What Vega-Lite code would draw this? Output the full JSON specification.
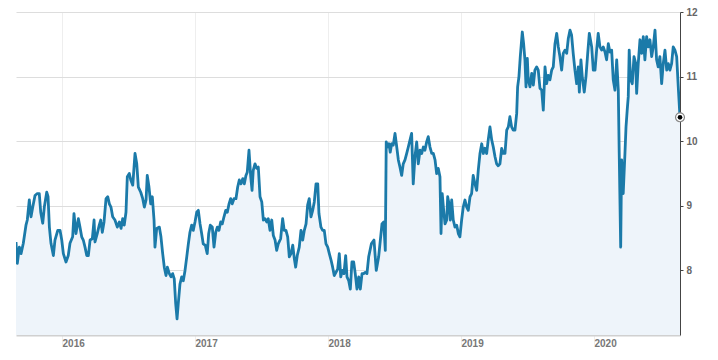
{
  "$schema": "https://vega.github.io/schema/vega-lite/v6.json",
  "width": 664,
  "height": 323,
  "autosize": "none",
  "padding": {"left": 16, "top": 12, "right": 38, "bottom": 25},
  "background": "white",
  "config": {"view": {"stroke": null}, "font": "Liberation Sans"},
  "data": {"values": [
    {"t":2015.654,"v":8.44},{"t":2015.664,"v":8.11},{"t":2015.679,"v":8.36},{"t":2015.692,"v":8.26},{"t":2015.709,"v":8.42},{"t":2015.729,"v":8.70},{"t":2015.739,"v":8.78},{"t":2015.754,"v":9.09},{"t":2015.767,"v":8.83},{"t":2015.780,"v":8.98},{"t":2015.797,"v":9.16},{"t":2015.814,"v":9.19},{"t":2015.829,"v":9.19},{"t":2015.840,"v":8.90},{"t":2015.855,"v":8.73},{"t":2015.867,"v":8.98},{"t":2015.885,"v":9.21},{"t":2015.895,"v":9.14},{"t":2015.905,"v":8.67},{"t":2015.917,"v":8.42},{"t":2015.935,"v":8.23},{"t":2015.947,"v":8.47},{"t":2015.968,"v":8.62},{"t":2015.985,"v":8.62},{"t":2015.998,"v":8.47},
    {"t":2016.010,"v":8.26},{"t":2016.030,"v":8.13},{"t":2016.047,"v":8.23},{"t":2016.060,"v":8.42},{"t":2016.080,"v":8.52},{"t":2016.090,"v":8.88},{"t":2016.105,"v":8.57},{"t":2016.123,"v":8.80},{"t":2016.135,"v":8.67},{"t":2016.148,"v":8.52},{"t":2016.160,"v":8.47},{"t":2016.173,"v":8.36},{"t":2016.186,"v":8.23},{"t":2016.198,"v":8.23},{"t":2016.211,"v":8.47},{"t":2016.228,"v":8.49},{"t":2016.241,"v":8.78},{"t":2016.248,"v":8.44},{"t":2016.265,"v":8.57},{"t":2016.280,"v":8.70},{"t":2016.291,"v":8.78},{"t":2016.303,"v":8.59},{"t":2016.316,"v":8.75},{"t":2016.331,"v":9.11},{"t":2016.344,"v":9.14},{"t":2016.356,"v":9.03},{"t":2016.368,"v":8.98},{"t":2016.381,"v":8.83},{"t":2016.398,"v":8.78},{"t":2016.416,"v":8.67},{"t":2016.431,"v":8.75},{"t":2016.444,"v":8.65},{"t":2016.456,"v":8.80},{"t":2016.468,"v":8.70},{"t":2016.481,"v":8.90},{"t":2016.491,"v":9.45},{"t":2016.506,"v":9.50},{"t":2016.517,"v":9.40},{"t":2016.532,"v":9.32},{"t":2016.549,"v":9.81},{"t":2016.562,"v":9.65},{"t":2016.574,"v":9.29},{"t":2016.592,"v":9.21},{"t":2016.607,"v":9.11},{"t":2016.619,"v":8.98},{"t":2016.632,"v":9.09},{"t":2016.641,"v":9.47},{"t":2016.654,"v":9.29},{"t":2016.667,"v":9.03},{"t":2016.679,"v":9.14},{"t":2016.692,"v":8.78},{"t":2016.699,"v":8.36},{"t":2016.712,"v":8.65},{"t":2016.732,"v":8.67},{"t":2016.744,"v":8.52},{"t":2016.757,"v":8.26},{"t":2016.769,"v":8.05},{"t":2016.782,"v":7.92},{"t":2016.792,"v":8.05},{"t":2016.807,"v":7.95},{"t":2016.820,"v":7.90},{"t":2016.832,"v":7.95},{"t":2016.844,"v":7.87},{"t":2016.855,"v":7.48},{"t":2016.865,"v":7.25},{"t":2016.874,"v":7.48},{"t":2016.887,"v":7.79},{"t":2016.900,"v":7.90},{"t":2016.912,"v":7.84},{"t":2016.925,"v":8.00},{"t":2016.938,"v":8.21},{"t":2016.950,"v":8.41},{"t":2016.962,"v":8.59},{"t":2016.975,"v":8.70},{"t":2016.987,"v":8.62},
    {"t":2017.000,"v":8.75},{"t":2017.013,"v":8.90},{"t":2017.025,"v":8.93},{"t":2017.038,"v":8.72},{"t":2017.050,"v":8.57},{"t":2017.062,"v":8.41},{"t":2017.077,"v":8.39},{"t":2017.092,"v":8.26},{"t":2017.103,"v":8.57},{"t":2017.115,"v":8.70},{"t":2017.130,"v":8.67},{"t":2017.143,"v":8.36},{"t":2017.156,"v":8.59},{"t":2017.168,"v":8.67},{"t":2017.180,"v":8.62},{"t":2017.193,"v":8.75},{"t":2017.205,"v":8.72},{"t":2017.218,"v":8.83},{"t":2017.231,"v":8.93},{"t":2017.243,"v":8.90},{"t":2017.256,"v":9.03},{"t":2017.268,"v":9.11},{"t":2017.280,"v":9.03},{"t":2017.293,"v":9.11},{"t":2017.308,"v":9.11},{"t":2017.321,"v":9.29},{"t":2017.333,"v":9.40},{"t":2017.346,"v":9.34},{"t":2017.359,"v":9.42},{"t":2017.371,"v":9.34},{"t":2017.383,"v":9.47},{"t":2017.393,"v":9.52},{"t":2017.406,"v":9.86},{"t":2017.419,"v":9.45},{"t":2017.429,"v":9.24},{"t":2017.438,"v":9.55},{"t":2017.451,"v":9.65},{"t":2017.464,"v":9.58},{"t":2017.476,"v":9.60},{"t":2017.489,"v":9.14},{"t":2017.502,"v":9.06},{"t":2017.514,"v":8.78},{"t":2017.526,"v":8.80},{"t":2017.539,"v":8.75},{"t":2017.551,"v":8.80},{"t":2017.564,"v":8.62},{"t":2017.577,"v":8.78},{"t":2017.589,"v":8.54},{"t":2017.602,"v":8.47},{"t":2017.614,"v":8.31},{"t":2017.626,"v":8.41},{"t":2017.644,"v":8.49},{"t":2017.659,"v":8.80},{"t":2017.671,"v":8.62},{"t":2017.684,"v":8.62},{"t":2017.697,"v":8.52},{"t":2017.709,"v":8.21},{"t":2017.722,"v":8.26},{"t":2017.735,"v":8.39},{"t":2017.747,"v":8.18},{"t":2017.757,"v":8.05},{"t":2017.769,"v":8.23},{"t":2017.784,"v":8.36},{"t":2017.797,"v":8.62},{"t":2017.810,"v":8.47},{"t":2017.822,"v":8.62},{"t":2017.835,"v":8.72},{"t":2017.847,"v":9.01},{"t":2017.859,"v":9.11},{"t":2017.872,"v":8.83},{"t":2017.885,"v":8.93},{"t":2017.897,"v":9.06},{"t":2017.910,"v":9.34},{"t":2017.923,"v":9.34},{"t":2017.932,"v":8.88},{"t":2017.947,"v":8.67},{"t":2017.960,"v":8.62},{"t":2017.972,"v":8.62},{"t":2017.985,"v":8.41},{"t":2017.998,"v":8.36},
    {"t":2018.010,"v":8.26},{"t":2018.023,"v":8.16},{"t":2018.035,"v":8.05},{"t":2018.047,"v":7.92},{"t":2018.060,"v":7.97},{"t":2018.073,"v":8.02},{"t":2018.085,"v":8.26},{"t":2018.096,"v":7.90},{"t":2018.108,"v":8.00},{"t":2018.120,"v":7.95},{"t":2018.133,"v":8.23},{"t":2018.143,"v":7.90},{"t":2018.156,"v":7.84},{"t":2018.168,"v":7.71},{"t":2018.180,"v":8.13},{"t":2018.193,"v":8.13},{"t":2018.205,"v":7.95},{"t":2018.218,"v":7.71},{"t":2018.231,"v":7.90},{"t":2018.243,"v":7.71},{"t":2018.256,"v":7.95},{"t":2018.268,"v":7.95},{"t":2018.280,"v":7.97},{"t":2018.293,"v":7.95},{"t":2018.306,"v":8.21},{"t":2018.326,"v":8.41},{"t":2018.346,"v":8.47},{"t":2018.363,"v":8.00},{"t":2018.381,"v":8.21},{"t":2018.406,"v":8.72},{"t":2018.419,"v":8.75},{"t":2018.431,"v":8.31},{"t":2018.438,"v":9.99},{"t":2018.449,"v":9.91},{"t":2018.459,"v":9.96},{"t":2018.468,"v":9.83},{"t":2018.479,"v":9.96},{"t":2018.491,"v":9.94},{"t":2018.504,"v":10.12},{"t":2018.517,"v":9.91},{"t":2018.529,"v":9.71},{"t":2018.541,"v":9.60},{"t":2018.554,"v":9.47},{"t":2018.566,"v":9.65},{"t":2018.579,"v":9.71},{"t":2018.592,"v":9.81},{"t":2018.604,"v":9.91},{"t":2018.617,"v":10.02},{"t":2018.629,"v":10.12},{"t":2018.641,"v":9.34},{"t":2018.654,"v":9.76},{"t":2018.667,"v":9.99},{"t":2018.679,"v":9.65},{"t":2018.692,"v":9.86},{"t":2018.705,"v":9.81},{"t":2018.717,"v":9.91},{"t":2018.729,"v":9.86},{"t":2018.742,"v":9.99},{"t":2018.754,"v":10.07},{"t":2018.767,"v":9.91},{"t":2018.780,"v":9.81},{"t":2018.792,"v":9.81},{"t":2018.805,"v":9.71},{"t":2018.817,"v":9.50},{"t":2018.829,"v":9.58},{"t":2018.842,"v":9.45},{"t":2018.850,"v":8.57},{"t":2018.859,"v":9.19},{"t":2018.870,"v":8.93},{"t":2018.880,"v":8.72},{"t":2018.893,"v":8.78},{"t":2018.900,"v":9.14},{"t":2018.910,"v":9.03},{"t":2018.920,"v":8.78},{"t":2018.930,"v":9.09},{"t":2018.942,"v":8.78},{"t":2018.955,"v":8.67},{"t":2018.968,"v":8.70},{"t":2018.980,"v":8.57},{"t":2018.992,"v":8.52},
    {"t":2019.005,"v":8.78},{"t":2019.017,"v":8.98},{"t":2019.030,"v":9.09},{"t":2019.043,"v":8.98},{"t":2019.055,"v":8.93},{"t":2019.068,"v":9.14},{"t":2019.080,"v":9.19},{"t":2019.092,"v":9.47},{"t":2019.105,"v":9.34},{"t":2019.118,"v":9.24},{"t":2019.130,"v":9.55},{"t":2019.143,"v":9.81},{"t":2019.156,"v":9.96},{"t":2019.168,"v":9.81},{"t":2019.180,"v":9.89},{"t":2019.193,"v":9.81},{"t":2019.205,"v":10.02},{"t":2019.218,"v":10.22},{"t":2019.231,"v":10.02},{"t":2019.243,"v":9.91},{"t":2019.256,"v":9.76},{"t":2019.268,"v":9.65},{"t":2019.280,"v":9.62},{"t":2019.293,"v":9.65},{"t":2019.306,"v":9.89},{"t":2019.318,"v":9.81},{"t":2019.331,"v":9.81},{"t":2019.344,"v":10.17},{"t":2019.356,"v":10.22},{"t":2019.368,"v":10.38},{"t":2019.381,"v":10.22},{"t":2019.393,"v":10.17},{"t":2019.406,"v":10.17},{"t":2019.419,"v":10.43},{"t":2019.426,"v":10.84},{"t":2019.436,"v":11.00},{"t":2019.446,"v":11.31},{"t":2019.461,"v":11.69},{"t":2019.471,"v":11.51},{"t":2019.481,"v":11.26},{"t":2019.489,"v":10.84},{"t":2019.499,"v":11.28},{"t":2019.506,"v":10.95},{"t":2019.519,"v":10.84},{"t":2019.532,"v":11.05},{"t":2019.544,"v":10.87},{"t":2019.556,"v":11.10},{"t":2019.569,"v":11.15},{"t":2019.581,"v":11.10},{"t":2019.594,"v":10.82},{"t":2019.607,"v":10.79},{"t":2019.619,"v":10.48},{"t":2019.632,"v":11.15},{"t":2019.644,"v":10.89},{"t":2019.656,"v":11.02},{"t":2019.669,"v":10.95},{"t":2019.682,"v":11.10},{"t":2019.694,"v":11.15},{"t":2019.707,"v":11.51},{"t":2019.720,"v":11.67},{"t":2019.732,"v":11.46},{"t":2019.744,"v":11.31},{"t":2019.757,"v":11.10},{"t":2019.769,"v":11.36},{"t":2019.782,"v":11.41},{"t":2019.795,"v":11.36},{"t":2019.807,"v":11.59},{"t":2019.820,"v":11.72},{"t":2019.832,"v":11.64},{"t":2019.844,"v":11.36},{"t":2019.857,"v":11.10},{"t":2019.870,"v":10.89},{"t":2019.882,"v":11.15},{"t":2019.890,"v":10.76},{"t":2019.902,"v":11.26},{"t":2019.912,"v":11.00},{"t":2019.927,"v":10.76},{"t":2019.940,"v":11.00},{"t":2019.953,"v":11.36},{"t":2019.965,"v":11.67},{"t":2019.983,"v":11.46},{"t":2019.995,"v":11.10},
    {"t":2020.008,"v":11.10},{"t":2020.020,"v":11.41},{"t":2020.032,"v":11.67},{"t":2020.045,"v":11.46},{"t":2020.058,"v":11.41},{"t":2020.070,"v":11.46},{"t":2020.083,"v":11.38},{"t":2020.095,"v":11.26},{"t":2020.108,"v":11.51},{"t":2020.120,"v":11.38},{"t":2020.133,"v":11.41},{"t":2020.145,"v":10.95},{"t":2020.158,"v":10.79},{"t":2020.171,"v":11.26},{"t":2020.183,"v":10.79},{"t":2020.190,"v":9.81},{"t":2020.201,"v":8.36},{"t":2020.208,"v":9.71},{"t":2020.220,"v":9.19},{"t":2020.233,"v":9.81},{"t":2020.241,"v":10.22},{"t":2020.250,"v":10.48},{"t":2020.258,"v":10.69},{"t":2020.265,"v":11.41},{"t":2020.276,"v":10.95},{"t":2020.288,"v":10.89},{"t":2020.301,"v":11.31},{"t":2020.314,"v":11.20},{"t":2020.321,"v":10.74},{"t":2020.333,"v":11.20},{"t":2020.346,"v":11.57},{"t":2020.359,"v":11.36},{"t":2020.371,"v":11.62},{"t":2020.383,"v":11.26},{"t":2020.396,"v":11.62},{"t":2020.408,"v":11.46},{"t":2020.421,"v":11.57},{"t":2020.434,"v":11.31},{"t":2020.446,"v":11.46},{"t":2020.459,"v":11.72},{"t":2020.471,"v":11.26},{"t":2020.483,"v":11.15},{"t":2020.496,"v":11.31},{"t":2020.509,"v":10.89},{"t":2020.521,"v":11.20},{"t":2020.534,"v":11.41},{"t":2020.547,"v":11.10},{"t":2020.559,"v":11.20},{"t":2020.571,"v":11.10},{"t":2020.584,"v":11.20},{"t":2020.596,"v":11.46},{"t":2020.609,"v":11.41},{"t":2020.622,"v":11.31},{"t":2020.634,"v":10.84},{"t":2020.647,"v":10.37}
  ]},
  "encoding": {
    "x": {
      "field": "t", "type": "quantitative",
      "scale": {"domain": [2015.654, 2020.647], "nice": false, "zero": false},
      "axis": {
        "title": null, "values": [2016, 2017, 2018, 2019, 2020], "format": "d",
        "grid": true, "gridColor": "#eeeeee", "gridWidth": 1,
        "domain": true, "domainColor": "#d0d0d0", "domainWidth": 2,
        "ticks": true, "tickColor": "#eeeeee", "tickSize": 10,
        "labelAlign": "left", "labelDx": 2, "labelPadding": -7, "labelBaseline": "top",
        "labelFlush": false, "labelColor": "#777777", "labelFontSize": 10, "labelFontWeight": "bold"
      }
    },
    "y": {
      "field": "v", "type": "quantitative",
      "scale": {"domain": [7, 12], "nice": false, "zero": false},
      "axis": {
        "title": null, "orient": "right", "values": [8, 9, 10, 11, 12],
        "grid": true, "gridColor": "#dddddd", "gridWidth": 1,
        "domain": true, "domainColor": "#444444", "domainWidth": 1,
        "ticks": true, "tickColor": "#444444", "tickSize": 3,
        "labelPadding": 3, "labelColor": "#666666", "labelFontSize": 10, "labelFontWeight": "bold"
      }
    }
  },
  "layer": [
    {"mark": {"type": "area", "color": "#eef4fa", "opacity": 1, "clip": true}},
    {"mark": {"type": "line", "color": "#1b7aa9", "strokeWidth": 2.8, "strokeJoin": "round", "clip": true}},
    {
      "transform": [{"filter": "datum.t == 2020.647"}],
      "mark": {"type": "point", "filled": true, "color": "white", "stroke": "#888888", "strokeWidth": 1.2, "size": 80, "opacity": 1}
    },
    {
      "transform": [{"filter": "datum.t == 2020.647"}],
      "mark": {"type": "point", "filled": true, "color": "black", "size": 22, "opacity": 1}
    }
  ]
}
